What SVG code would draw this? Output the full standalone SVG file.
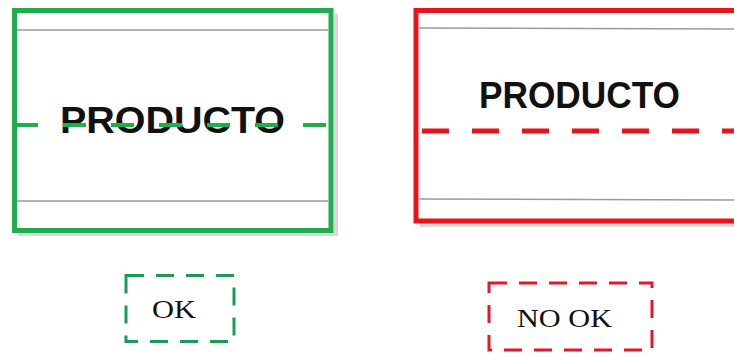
<svg xmlns="http://www.w3.org/2000/svg" width="734" height="356" viewBox="0 0 734 356">
<style>
.shadow{fill:none;stroke:#c8c8c8;stroke-width:4;opacity:0.7}
.grey{stroke:#9a9a9a;stroke-width:1.5;fill:none}
.gbox{fill:#fff;stroke:#1fad4e;stroke-width:5}
.rbox{fill:#fff;stroke:#e8141c;stroke-width:5}
.big{font-family:"Liberation Sans",Arial,sans-serif;font-weight:bold;font-size:37px;fill:#111}
.small{font-family:"Liberation Serif","Times New Roman",serif;font-size:25px;fill:#111}
</style>
<rect width="734" height="356" fill="#fff"/>
<g id="ok-product">
<path class="shadow" d="M18 234 H336 V14"/>
<rect class="gbox" x="14.5" y="10.5" width="316.5" height="220"/>
<line class="grey" x1="17" y1="30" x2="328" y2="30"/>
<line class="grey" x1="17" y1="201" x2="328" y2="201"/>
<text class="big" x="60" y="133" textLength="225" lengthAdjust="spacingAndGlyphs">PRODUCTO</text>
<line x1="15" y1="125" x2="330" y2="125" stroke="#1fad4e" stroke-width="4" stroke-dasharray="23 25"/>
</g>
<g id="nook-product">
<path class="shadow" d="M420 225 H740"/>
<rect class="rbox" x="416" y="10.5" width="330" height="210.5"/>
<line class="grey" x1="419" y1="28" x2="734" y2="29"/>
<line class="grey" x1="419" y1="199" x2="734" y2="200"/>
<text class="big" x="479" y="108" textLength="201" lengthAdjust="spacingAndGlyphs">PRODUCTO</text>
<line x1="422" y1="131" x2="734" y2="131" stroke="#e8141c" stroke-width="5" stroke-dasharray="27 23"/>
</g>
<g id="ok-label">
<rect x="126" y="275.5" width="108" height="66" fill="none" stroke="#1d9a55" stroke-width="3" stroke-dasharray="18 12"/>
<text class="small" x="152" y="318" textLength="44" lengthAdjust="spacingAndGlyphs">OK</text>
</g>
<g id="nook-label">
<rect x="489" y="283" width="163" height="67" fill="none" stroke="#e3172c" stroke-width="3" stroke-dasharray="18 12"/>
<text class="small" x="517" y="327" textLength="95" lengthAdjust="spacingAndGlyphs">NO OK</text>
</g>
<g id="connectors"/>
</svg>
